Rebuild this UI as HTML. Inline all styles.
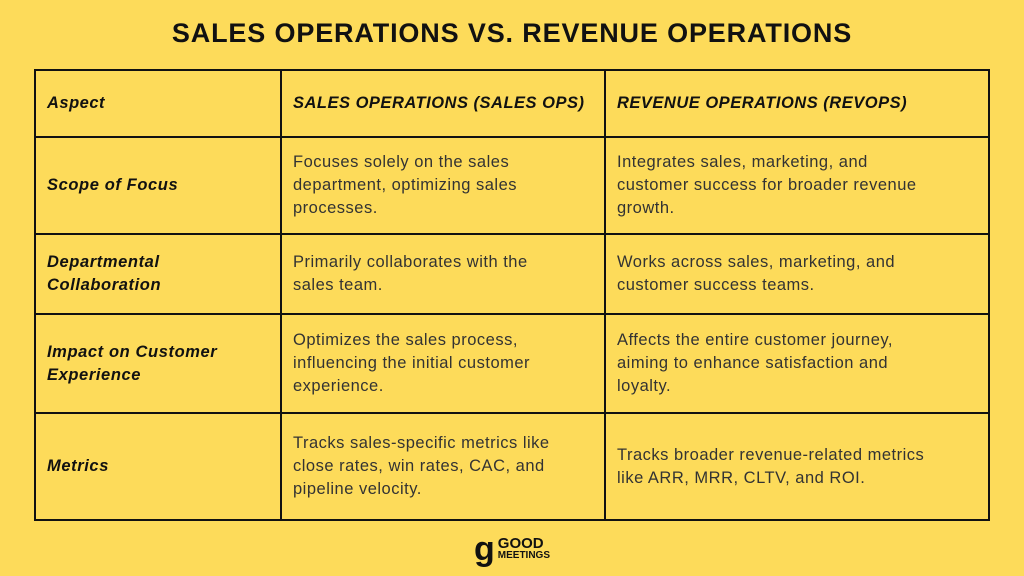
<!DOCTYPE html>
<html><head><style>
html,body{margin:0;padding:0;}
body{width:1024px;height:576px;background:#FDDB5A;font-family:"Liberation Sans",sans-serif;position:relative;overflow:hidden;}
h1{position:absolute;top:18px;left:0;width:1024px;text-align:center;margin:0;font-size:27px;font-weight:bold;color:#111;letter-spacing:0.85px;}
table{position:absolute;left:34px;top:69px;border-collapse:collapse;table-layout:fixed;width:954px;}
td{border:2px solid #111;padding:0 11px;vertical-align:middle;font-size:16.5px;line-height:23px;color:#333;letter-spacing:0.5px;white-space:nowrap;overflow:hidden;}
td.h{font-weight:bold;font-style:italic;color:#111;letter-spacing:0.6px;}
tr.head td{font-weight:bold;font-style:italic;color:#111;letter-spacing:0.5px;}
.logo{position:absolute;left:474px;top:536px;display:flex;align-items:center;gap:3px;}
.g{font-size:34px;font-weight:bold;color:#111;line-height:26px;}
.lt{font-weight:bold;color:#111;}
.lt .a{font-size:15px;line-height:14px;}
.lt .b{font-size:10px;line-height:10px;}
</style></head><body>
<h1>SALES OPERATIONS VS. REVENUE OPERATIONS</h1>
<table>
<colgroup><col style="width:246px"><col style="width:324px"><col style="width:384px"></colgroup>
<tr class="head" style="height:67px"><td>Aspect</td><td>SALES OPERATIONS (SALES OPS)</td><td>REVENUE OPERATIONS (REVOPS)</td></tr>
<tr style="height:97px"><td class="h">Scope of Focus</td><td>Focuses solely on the sales<br>department, optimizing sales<br>processes.</td><td>Integrates sales, marketing, and<br>customer success for broader revenue<br>growth.</td></tr>
<tr style="height:80px"><td class="h">Departmental<br>Collaboration</td><td>Primarily collaborates with the<br>sales team.</td><td>Works across sales, marketing, and<br>customer success teams.</td></tr>
<tr style="height:99px"><td class="h">Impact on Customer<br>Experience</td><td>Optimizes the sales process,<br>influencing the initial customer<br>experience.</td><td>Affects the entire customer journey,<br>aiming to enhance satisfaction and<br>loyalty.</td></tr>
<tr style="height:107px"><td class="h">Metrics</td><td>Tracks sales-specific metrics like<br>close rates, win rates, CAC, and<br>pipeline velocity.</td><td>Tracks broader revenue-related metrics<br>like ARR, MRR, CLTV, and ROI.</td></tr>
</table>
<div class="logo"><div class="g">g</div><div class="lt"><div class="a">GOOD</div><div class="b">MEETINGS</div></div></div>
</body></html>
